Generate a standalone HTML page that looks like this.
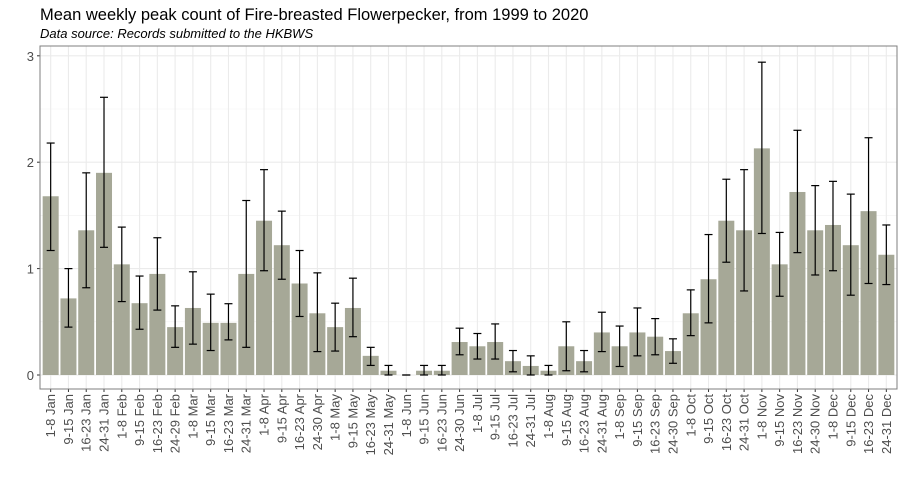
<!DOCTYPE html>
<html><head><meta charset="utf-8"><style>
body{margin:0;background:#fff;font-family:"Liberation Sans",Arial,sans-serif}
svg{display:block}
</style></head><body>
<svg id="chart" width="904" height="492" xmlns="http://www.w3.org/2000/svg">
<text x="40" y="20" font-size="16.5" fill="#000">Mean weekly peak count of Fire-breasted Flowerpecker, from 1999 to 2020</text>
<text x="40" y="38" font-size="13" font-style="italic" fill="#000">Data source: Records submitted to the HKBWS</text>
<g id="grid"></g><g id="bars"></g><g id="axes"></g>
</svg>
<script>
const categories=["1-8 Jan","9-15 Jan","16-23 Jan","24-31 Jan","1-8 Feb","9-15 Feb","16-23 Feb","24-29 Feb","1-8 Mar","9-15 Mar","16-23 Mar","24-31 Mar","1-8 Apr","9-15 Apr","16-23 Apr","24-30 Apr","1-8 May","9-15 May","16-23 May","24-31 May","1-8 Jun","9-15 Jun","16-23 Jun","24-30 Jun","1-8 Jul","9-15 Jul","16-23 Jul","24-31 Jul","1-8 Aug","9-15 Aug","16-23 Aug","24-31 Aug","1-8 Sep","9-15 Sep","16-23 Sep","24-30 Sep","1-8 Oct","9-15 Oct","16-23 Oct","24-31 Oct","1-8 Nov","9-15 Nov","16-23 Nov","24-30 Nov","1-8 Dec","9-15 Dec","16-23 Dec","24-31 Dec"];
const means=[1.68,0.72,1.36,1.9,1.04,0.675,0.95,0.45,0.63,0.49,0.49,0.95,1.45,1.22,0.86,0.58,0.45,0.63,0.18,0.04,0,0.04,0.04,0.31,0.27,0.31,0.13,0.085,0.04,0.27,0.13,0.4,0.27,0.4,0.36,0.225,0.58,0.9,1.45,1.36,2.13,1.04,1.72,1.36,1.41,1.22,1.54,1.13];
const upper=[2.18,1.0,1.9,2.61,1.39,0.93,1.29,0.65,0.97,0.76,0.67,1.64,1.93,1.54,1.17,0.96,0.675,0.91,0.26,0.09,0,0.09,0.09,0.44,0.39,0.48,0.23,0.18,0.09,0.5,0.23,0.59,0.46,0.63,0.53,0.34,0.8,1.32,1.84,1.93,2.94,1.34,2.3,1.78,1.82,1.7,2.23,1.41];
const lower=[1.17,0.45,0.82,1.2,0.69,0.43,0.61,0.26,0.29,0.23,0.33,0.26,0.98,0.9,0.55,0.22,0.225,0.36,0.09,0,0,0,0,0.19,0.15,0.15,0.03,0,0,0.04,0.03,0.22,0.08,0.18,0.19,0.11,0.37,0.49,1.06,0.79,1.33,0.74,1.15,0.94,0.98,0.75,0.86,0.85];
const yTicks=[0,1,2,3];
const NS="http://www.w3.org/2000/svg";
const L=40,R=897,T=46,B=389;
const step=(R-L)/(categories.length+0.2);
const x=i=>L+step*(0.6+i);
const y=v=>375-v*106.4;
function mk(p,tag,a){const e=document.createElementNS(NS,tag);for(const k in a)e.setAttribute(k,a[k]);p.appendChild(e);return e;}
const g=document.getElementById('grid'),b=document.getElementById('bars'),ax=document.getElementById('axes');
[0.5,1.5,2.5].forEach(v=>{const l=mk(g,'line',{x1:L,x2:R,y1:y(v),y2:y(v),stroke:'#f2f2f2','stroke-width':0.6});

});
yTicks.forEach(v=>{const l=mk(g,'line',{x1:L,x2:R,y1:y(v),y2:y(v),stroke:'#ebebeb','stroke-width':1.1});


mk(ax,'line',{x1:L-3,x2:L,y1:y(v),y2:y(v),stroke:'#333','stroke-width':1});
const t=mk(ax,'text',{x:L-6,y:y(v)+5,'font-size':13,'text-anchor':'end',fill:'#4d4d4d'});t.textContent=v;

});
categories.forEach((c,i)=>{const cx=x(i);
const l=mk(g,'line',{x1:cx,x2:cx,y1:T,y2:B,stroke:'#ebebeb','stroke-width':1.1});


const bw=step*0.9;
const r=mk(b,'rect',{x:cx-bw/2,y:y(means[i]),width:bw,height:y(0)-y(means[i]),fill:'#a6a897'});


const eg=mk(b,'g',{stroke:'#000','stroke-width':1.2});


mk(eg,'line',{x1:cx,x2:cx,y1:y(upper[i]),y2:y(lower[i])});
mk(eg,'line',{x1:cx-4,x2:cx+4,y1:y(upper[i]),y2:y(upper[i])});
mk(eg,'line',{x1:cx-4,x2:cx+4,y1:y(lower[i]),y2:y(lower[i])});
mk(ax,'line',{x1:cx,x2:cx,y1:B,y2:B+3,stroke:'#333','stroke-width':1});
const t=mk(ax,'text',{x:0,y:0,'font-size':13,'text-anchor':'end',fill:'#4d4d4d',transform:`translate(${cx+4.5},${B+5}) rotate(-90)`});t.textContent=c;

});
const f=mk(ax,'rect',{x:L,y:T,width:R-L,height:B-T,fill:'none',stroke:'#7f7f7f','stroke-width':1});


</script>
</body></html>
